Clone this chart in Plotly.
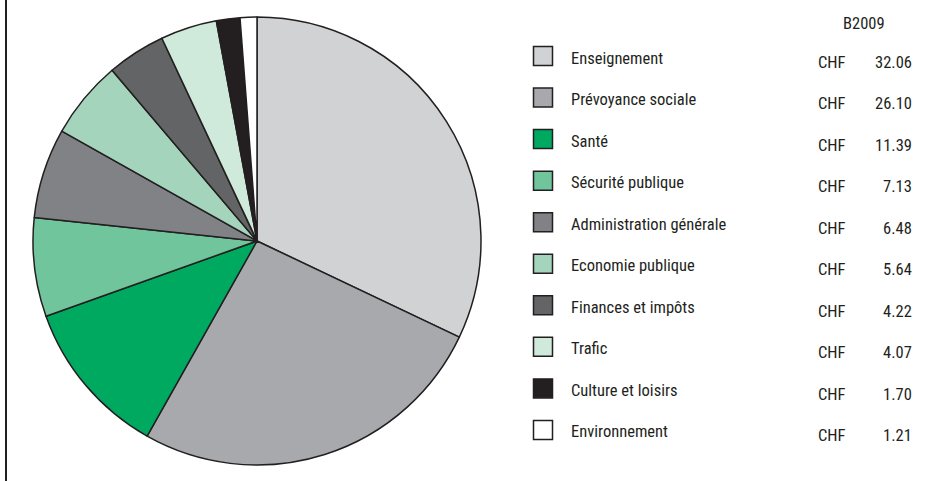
import plotly.graph_objects as go

categories = ["Enseignement", "Prévoyance sociale", "Santé", "Sécurité publique",
              "Administration générale", "Economie publique", "Finances et impôts",
              "Trafic", "Culture et loisirs", "Environnement"]
values = [32.06, 26.10, 11.39, 7.13, 6.48, 5.64, 4.22, 4.07, 1.70, 1.21]
value_labels = ["32.06", "26.10", "11.39", "7.13", "6.48", "5.64", "4.22", "4.07", "1.70", "1.21"]
currency = "CHF"
column_title = "B2009"
colors = ["#d1d2d4", "#a7a9ac", "#00a960", "#71c59c", "#808285",
          "#a4d5bc", "#636466", "#cfe9da", "#231f20", "#ffffff"]

W, H = 942, 481
edge = "#231f20"
FONT = "Roboto Condensed, DejaVu Sans Condensed, sans-serif"
FS = 16.5
txt_color = "#231f20"

fig = go.Figure()

# Pie
pie_left, pie_right, pie_top, pie_bottom = 33, 481, 17, 465
fig.add_trace(go.Pie(
    labels=categories, values=values, sort=False, direction="clockwise",
    rotation=0, textinfo="none", showlegend=False,
    marker=dict(colors=colors, line=dict(color=edge, width=1.5)),
    domain=dict(x=[pie_left / W, pie_right / W], y=[1 - pie_bottom / H, 1 - pie_top / H]),
    hovertemplate="%{label}: CHF %{value:.2f}<extra></extra>",
))

# Legend table (pixel coordinates on hidden axes)
sw_x = 543
y0 = 56
dy = 41.55
ys = [y0 + dy * i for i in range(len(categories))]

fig.add_trace(go.Scatter(
    x=[sw_x] * len(categories), y=ys, mode="markers", showlegend=False,
    marker=dict(symbol="square", size=19, color=colors, line=dict(color=edge, width=1.5)),
    hoverinfo="skip",
))

annotations = []
for cat, val, y in zip(categories, value_labels, ys):
    annotations.append(dict(x=569, y=y + 2, text=cat, xref="x", yref="y",
                            xanchor="left", yanchor="middle", showarrow=False,
                            font=dict(family=FONT, size=FS, color=txt_color)))
    annotations.append(dict(x=816, y=y + 6, text=currency, xref="x", yref="y",
                            xanchor="left", yanchor="middle", showarrow=False,
                            font=dict(family=FONT, size=FS, color=txt_color)))
    annotations.append(dict(x=914, y=y + 6, text=val, xref="x", yref="y",
                            xanchor="right", yanchor="middle", showarrow=False,
                            font=dict(family=FONT, size=FS, color=txt_color)))
annotations.append(dict(x=864, y=23, text=column_title, xref="x", yref="y",
                        xanchor="center", yanchor="middle", showarrow=False,
                        font=dict(family=FONT, size=FS, color=txt_color)))

fig.update_layout(
    width=W, height=H, margin=dict(l=0, r=0, t=0, b=0),
    paper_bgcolor="white", plot_bgcolor="rgba(0,0,0,0)",
    xaxis=dict(range=[0, W], visible=False, fixedrange=True, domain=[0, 1]),
    yaxis=dict(range=[H, 0], visible=False, fixedrange=True, domain=[0, 1]),
    annotations=annotations,
    shapes=[dict(type="line", xref="x", yref="y", x0=6, x1=6, y0=0, y1=H,
                 line=dict(color=edge, width=2))],
    font=dict(family=FONT),
)

fig.write_html("out.html", config={"displayModeBar": False},
               post_script="document.body.style.margin='0';")
